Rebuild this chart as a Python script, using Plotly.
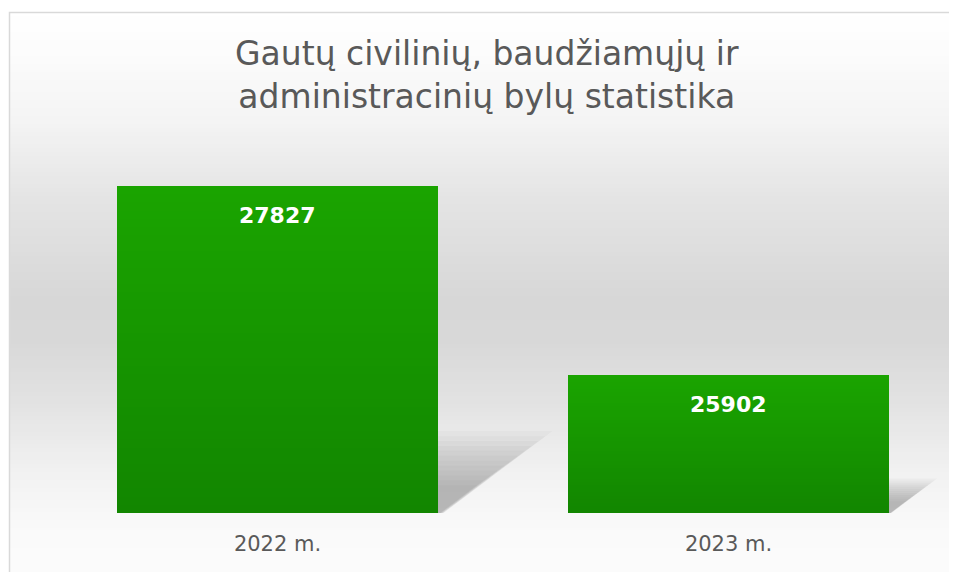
import plotly.graph_objects as go

categories = ["2022 m.", "2023 m."]
values = [27827, 25902]
title_text = "Gautų civilinių, baudžiamųjų ir<br>administracinių bylų statistika"

OFF = 8  # page body margin
W, H = 957 - OFF, 580 - 2 * OFF
ML, MR, MT, MB = 52 - OFF, W - (954 - OFF), 169 - OFF, H - (513 - OFF)
PW, PH = W - ML - MR, H - MT - MB
Y0, Y1 = 24500, 28000
BAR_W = 0.712
FONT = "DejaVu Sans, Liberation Sans, Arial"

def px_x(px):  # page px -> paper
    return (px - OFF - ML) / PW

def px_y(py):
    return (H - MB - (py - OFF)) / PH

def lerp(a, b, t):
    return a + (b - a) * t

xs = list(range(len(categories)))
fig = go.Figure()

# gradient bars via overlaid slices
N = 40
top_c = (26, 164, 0)
bot_c = (18, 134, 0)
for k in range(N):
    frac = 1 - k / N
    t = k / (N - 1)
    c = tuple(int(round(lerp(top_c[i], bot_c[i], t))) for i in range(3))
    fig.add_trace(go.Bar(
        x=xs, y=[Y0 + (v - Y0) * frac for v in values], base=0,
        width=BAR_W, marker=dict(color="rgb(%d,%d,%d)" % c, line=dict(width=0)),
        hoverinfo="skip", showlegend=False))

shapes = []
# background gradient (style)
stops = [(12, 255), (60, 251), (120, 244), (200, 228), (300, 215), (340, 216), (400, 226), (470, 241), (530, 250), (600, 252)]
def gray_at(py):
    for (y_a, g_a), (y_b, g_b) in zip(stops, stops[1:]):
        if y_a <= py <= y_b:
            return lerp(g_a, g_b, (py - y_a) / (y_b - y_a))
    return stops[-1][1]
step = 4
py = 12
while py < 600:
    g = int(round(gray_at(py + step / 2)))
    shapes.append(dict(type="rect", xref="paper", yref="paper", layer="below",
                       x0=px_x(9), x1=px_x(1000), y0=px_y(py + step + 0.5), y1=px_y(py),
                       fillcolor="rgb(%d,%d,%d)" % (g, g, g), line=dict(width=0)))
    py += step
shapes.append(dict(type="rect", xref="paper", yref="paper", layer="below",
                   x0=px_x(9.5), x1=px_x(1010), y0=px_y(620), y1=px_y(12.5),
                   fillcolor="rgba(0,0,0,0)", line=dict(color="#d9d9d9", width=1.5)))

# decorative soft shadows derived from bar values
for x, v in zip(xs, values):
    h = v - Y0
    x_r = x + BAR_W / 2
    sw = h * 7.6e-5
    sh = h * 0.25
    layers = 12
    for j in range(layers):
        s = 1 - j * 0.06
        path = "M %f,%f L %f,%f L %f,%f L %f,%f Z" % (
            x_r, Y0, x_r, Y0 + sh * s, x_r + sw * s, Y0 + sh * s, x_r + sw * 0.05 * s, Y0)
        shapes.append(dict(type="path", xref="x", yref="y", layer="below", path=path,
                           fillcolor="rgba(110,110,110,0.05)", line=dict(width=0)))

annotations = [dict(text=title_text, xref="paper", yref="paper", x=px_x(487), y=px_y(75),
                    xanchor="center", yanchor="middle", showarrow=False,
                    font=dict(family=FONT, size=33, color="#595959"))]
for x, v in zip(xs, values):
    annotations.append(dict(text="<b>%d</b>" % v, x=x, y=v, xref="x", yref="y", yshift=-29,
                            yanchor="middle", xanchor="center", showarrow=False,
                            font=dict(family=FONT, size=22, color="white")))

fig.update_layout(
    width=W, height=H, margin=dict(l=ML, r=MR, t=MT, b=MB),
    paper_bgcolor="white", plot_bgcolor="rgba(0,0,0,0)",
    barmode="overlay", bargap=0, showlegend=False,
    shapes=shapes, annotations=annotations,
    xaxis=dict(range=[-0.5, 1.5], tickvals=xs, ticktext=categories, showgrid=False,
               zeroline=False, showline=False, ticks="outside", ticklen=12,
               tickcolor="rgba(0,0,0,0)",
               tickfont=dict(family=FONT, size=21, color="#595959")),
    yaxis=dict(range=[Y0, Y1], visible=False, showgrid=False, zeroline=False),
)
fig.write_html("out.html")
